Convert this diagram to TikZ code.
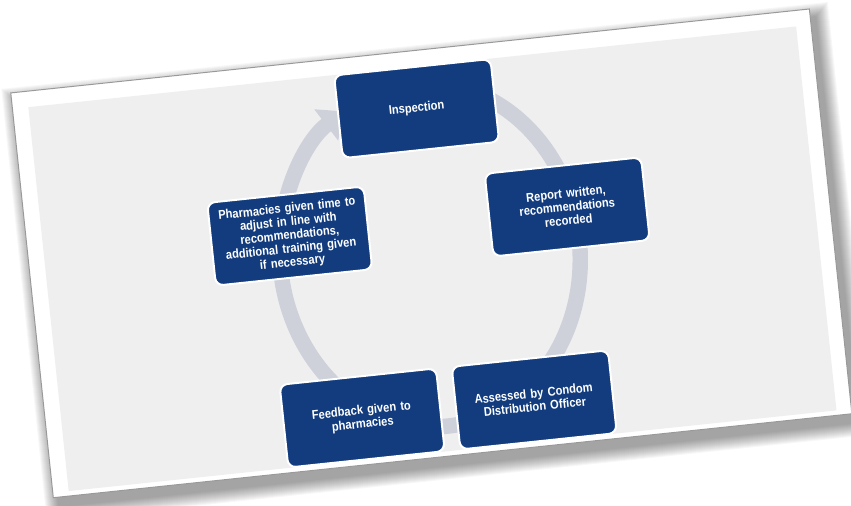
\documentclass[tikz,border=0pt]{standalone}
\usepackage{fontspec}
\setmainfont{Liberation Sans}
\newfontfamily\stagefont[FakeStretch=0.88]{Liberation Sans}
\usepackage{tikz}
\usetikzlibrary{arrows.meta}
\definecolor{navy}{RGB}{18,60,126}
\definecolor{ringgray}{RGB}{206,209,218}
\definecolor{slidegray}{RGB}{239,239,239}

\begin{document}
\begin{tikzpicture}[x=0.025cm, y=0.025cm,
    stage/.style={draw=white, line width=1.4pt, fill=navy, rounded corners=5.5pt,
        minimum width=3.93cm, minimum height=2.08cm, text width=3.75cm, align=center,
        inner sep=2pt, text=white, font=\stagefont\fontsize{9}{9.6}\selectfont\bfseries}]
\useasboundingbox (0,0) rectangle (851,506);

\begin{scope}[shift={(430,251)}, rotate=6, transform shape]
% Shadow under the card
\foreach \s in {1,...,14} {
    \fill[black, opacity=0.03] (-400+5-\s,-202-9-\s) rectangle (403+5+\s,205-9+\s);
}

% Card and slide
\filldraw[fill=white, draw=gray!80, line width=0.7pt] (-400,-202) rectangle (403,205);
\fill[slidegray] (-384,-197) rectangle (388,189);

% Cycle ring
\coordinate (ringstart) at (80:150 and 172);
\draw[ringgray, line width=11pt, -{Triangle[width=27pt,length=16pt]}]
    (ringstart) arc[start angle=80, end angle=-242, x radius=150, y radius=172];

% Stages
\node[stage] (insp) at (2,147) {Inspection};
\node[stage] (report) at (141.5,33.5) {Report written,\\recommendations\\recorded};
\node[stage] (assess) at (88.5,-155) {Assessed by Condom\\Distribution Officer};
\node[stage] (feedback) at (-84.5,-155) {Feedback given to\\pharmacies};
\node[stage] (pharm) at (-137.5,33.5) {Pharmacies given time to\\adjust in line with\\recommendations,\\additional training given\\if necessary};
\end{scope}
\end{tikzpicture}
\end{document}
